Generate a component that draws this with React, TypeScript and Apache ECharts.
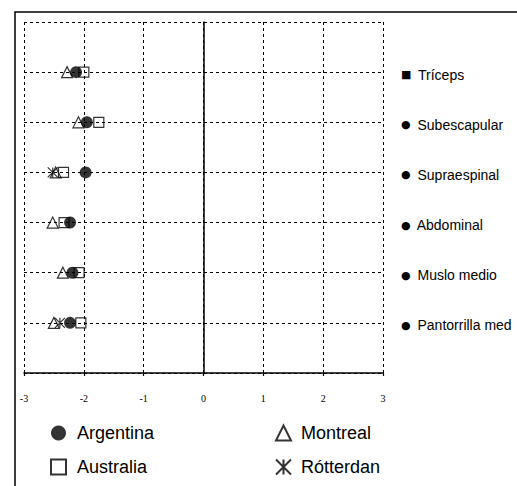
import React, { useEffect, useRef } from "react";
import * as echarts from "echarts";

const sites = ["Tríceps", "Subescapular", "Supraespinal", "Abdominal", "Muslo medio", "Pantorrilla med"];
const siteMarks = ["■", "●", "●", "●", "●", "●"];
const argentina = [-2.13, -1.95, -1.97, -2.23, -2.19, -2.23];
const australia = [-2.0, -1.75, -2.34, -2.33, -2.08, -2.05];
const montreal = [-2.28, -2.09, -2.47, -2.52, -2.35, -2.5];
const rotterdan: (number | null)[] = [null, null, -2.52, null, null, -2.4];
const xTicks = [-3, -2, -1, 0, 1, 2, 3];

const toPoints = (vals: (number | null)[]) =>
  vals
    .map((v, i) => (v === null ? null : [v, sites.length - i]))
    .filter((p) => p !== null);

export default function App() {
  const ref = useRef<HTMLDivElement>(null);
  useEffect(() => {
    if (!ref.current) return;
    const chart = echarts.init(ref.current, null, { renderer: "svg" });
    const sans = "Liberation Sans, Arial, sans-serif";
    const dash = { color: "#000", width: 1, type: [3, 3] as any };
    chart.setOption({
      animation: false,
      backgroundColor: "#fff",
      grid: { left: 24, right: 134, top: 22, bottom: 113 },
      xAxis: {
        type: "value",
        min: xTicks[0],
        max: xTicks[xTicks.length - 1],
        interval: 1,
        axisLine: { onZero: false, lineStyle: { color: "#000", width: 1.5 } },
        axisTick: { show: true, length: 3, lineStyle: { color: "#000", width: 1.2 } },
        axisLabel: {
          color: "#000",
          fontFamily: "Liberation Serif, Times New Roman, serif",
          fontSize: 10,
          margin: 20,
        },
        splitLine: { show: true, lineStyle: dash },
      },
      yAxis: [
        {
          type: "value",
          min: 0,
          max: 7,
          interval: 1,
          axisLine: { show: true, onZero: true, lineStyle: { color: "#000", width: 1.5 } },
          axisTick: { show: true, inside: true, length: 3, lineStyle: { color: "#000" } },
          axisLabel: { show: false },
          splitLine: { show: true, lineStyle: dash },
        },
        {
          type: "value",
          position: "right",
          min: 0,
          max: 7,
          interval: 1,
          axisLine: { show: false },
          axisTick: { show: false },
          splitLine: { show: false },
          axisLabel: {
            margin: 18,
            color: "#000",
            fontFamily: sans,
            fontSize: 14,
            padding: [5, 0, 0, 0],
            formatter: (v: number) => {
              const i = sites.length - v;
              if (i < 0 || i >= sites.length || v === 0) return "";
              return "{m|" + siteMarks[i] + "} " + sites[i];
            },
            rich: { m: { fontSize: 11, color: "#000", fontFamily: "DejaVu Sans", padding: [0, 3, 0, 0] } },
          },
        },
      ],
      legend: [
        {
          orient: "vertical",
          left: 45,
          top: 419,
          itemWidth: 15,
          itemHeight: 15,
          itemGap: 16,
          data: ["Argentina", "Australia"],
          textStyle: { fontFamily: sans, fontSize: 18, color: "#000", padding: [0, 0, 0, 6] },
        },
        {
          orient: "vertical",
          left: 270,
          top: 419,
          itemWidth: 15,
          itemHeight: 15,
          itemGap: 16,
          data: ["Montreal", "Rótterdan"],
          textStyle: { fontFamily: sans, fontSize: 18, color: "#000", padding: [0, 0, 0, 5] },
        },
      ],
      graphic: [
        {
          type: "rect",
          shape: { x: 15, y: 12, width: 520, height: 490 },
          style: { fill: "none", stroke: "#000", lineWidth: 1.5 },
          silent: true,
        },
      ],
      series: [
        {
          name: "Australia",
          type: "scatter",
          symbol: "rect",
          symbolSize: 10,
          itemStyle: { color: "rgba(255,255,255,0)", borderColor: "#000", borderWidth: 1.2 },
          data: toPoints(australia),
          z: 2,
        },
        {
          name: "Montreal",
          type: "scatter",
          symbol: "triangle",
          symbolSize: 11,
          itemStyle: { color: "rgba(255,255,255,0)", borderColor: "#000", borderWidth: 1.2 },
          data: toPoints(montreal),
          z: 3,
        },
        {
          name: "Rótterdan",
          type: "scatter",
          symbol: "path://M0,0L10,10M10,0L0,10M5,0L5,10",
          symbolSize: 10,
          itemStyle: { color: "rgba(0,0,0,0)", borderColor: "#000", borderWidth: 1.2 },
          data: toPoints(rotterdan),
          z: 4,
        },
        {
          name: "Argentina",
          type: "scatter",
          symbol: "circle",
          symbolSize: 12,
          itemStyle: { color: "#000" },
          data: toPoints(argentina),
          z: 5,
        },
      ],
    });
    return () => chart.dispose();
  }, []);
  return (
    <div
      ref={ref}
      style={{ position: "fixed", left: 0, top: 0, width: 517, height: 486 }}
    />
  );
}
